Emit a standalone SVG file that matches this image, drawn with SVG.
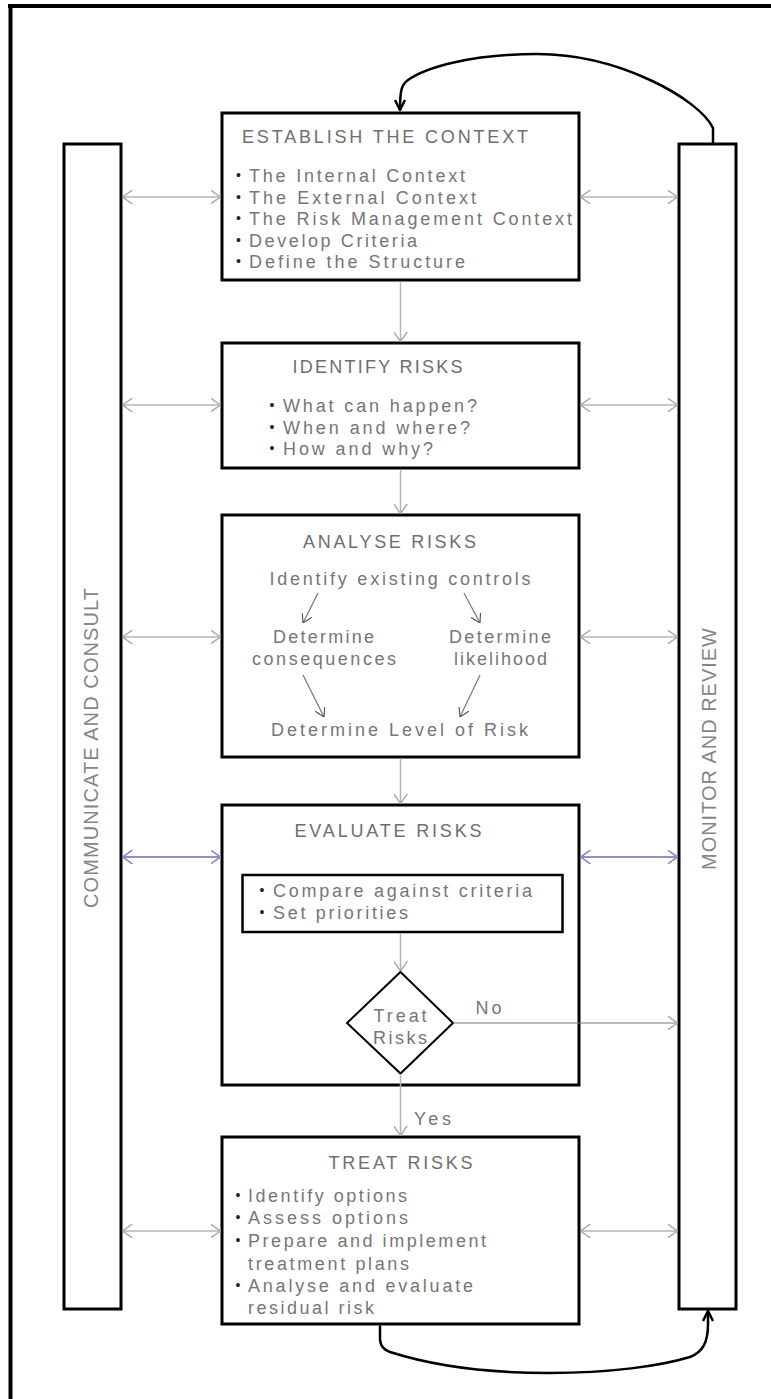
<svg xmlns="http://www.w3.org/2000/svg" width="771" height="1399" viewBox="0 0 771 1399">
<style>
.box{fill:#fff;stroke:#000;stroke-width:3}
.col{fill:#fff;stroke:#000;stroke-width:3}
.t{font-family:"Liberation Sans",Arial,sans-serif;font-size:18px;fill:#767676}
.h{font-family:"Liberation Sans",Arial,sans-serif;font-size:18px;fill:#6e6e6e}
.ct{font-family:"Liberation Sans",Arial,sans-serif;font-size:20px;fill:#858585}
.b{font-family:"Liberation Sans",Arial,sans-serif;font-size:14px;fill:#222;text-anchor:middle}
.cg{fill:none;stroke:#b4b4b4;stroke-width:1.5}
.cb{fill:none;stroke:#9090c4;stroke-width:2}
.cd{fill:none;stroke:#777;stroke-width:1.2}
.ck{fill:none;stroke:#000;stroke-width:2.5}
</style>
<defs>
<marker id="ag" viewBox="0 0 10 14" refX="10" refY="7" markerWidth="10" markerHeight="14" markerUnits="userSpaceOnUse" orient="auto-start-reverse"><path d="M0,0 L10,7 L0,14" fill="none" stroke="#a8a8a8" stroke-width="1.4"/></marker>
<marker id="ab" viewBox="0 0 10 14" refX="10" refY="7" markerWidth="10" markerHeight="14" markerUnits="userSpaceOnUse" orient="auto-start-reverse"><path d="M0,0 L10,7 L0,14" fill="none" stroke="#8c8cc0" stroke-width="1.6"/></marker>
<marker id="ad" viewBox="0 0 10 12" refX="10" refY="6" markerWidth="9" markerHeight="11" markerUnits="userSpaceOnUse" orient="auto"><path d="M0,0 L10,6 L0,12" fill="none" stroke="#555" stroke-width="1.3"/></marker>
<marker id="ak" viewBox="0 0 12 12" refX="11" refY="6" markerWidth="12" markerHeight="12" markerUnits="userSpaceOnUse" orient="auto"><path d="M1,1 L11,6 L1,11" fill="none" stroke="#000" stroke-width="2.5"/></marker>
</defs>

<g id="frame">
<line x1="8" y1="6" x2="771" y2="6" stroke="#000" stroke-width="4"/>
<line x1="10.5" y1="4" x2="10.5" y2="1399" stroke="#000" stroke-width="4"/>
</g>

<g id="communicate">
<rect class="col" x="64" y="144" width="57" height="1165"/>
<text class="ct" transform="translate(97.5,908) rotate(-90)" x="0" y="0" textLength="320" lengthAdjust="spacing">COMMUNICATE AND CONSULT</text>
</g>

<g id="monitor">
<rect class="col" x="679" y="144" width="57" height="1165"/>
<text class="ct" transform="translate(716,870) rotate(-90)" x="0" y="0" textLength="242" lengthAdjust="spacing">MONITOR AND REVIEW</text>
</g>

<g id="establish">
<rect class="box" x="222" y="113" width="357" height="167"/>
<text class="h" x="242" y="143" textLength="286" lengthAdjust="spacing">ESTABLISH THE CONTEXT</text>
<text class="b" x="238.5" y="180">•</text><text class="t" x="249" y="182" textLength="216" lengthAdjust="spacing">The Internal Context</text>
<text class="b" x="238.5" y="201.5">•</text><text class="t" x="249" y="203.5" textLength="227" lengthAdjust="spacing">The External Context</text>
<text class="b" x="238.5" y="223">•</text><text class="t" x="249" y="225" textLength="323" lengthAdjust="spacing">The Risk Management Context</text>
<text class="b" x="238.5" y="244.5">•</text><text class="t" x="249" y="246.5" textLength="168" lengthAdjust="spacing">Develop Criteria</text>
<text class="b" x="238.5" y="266">•</text><text class="t" x="249" y="268" textLength="216" lengthAdjust="spacing">Define the Structure</text>
</g>

<g id="identify">
<rect class="box" x="222" y="343" width="357" height="125"/>
<text class="h" x="292.5" y="373" textLength="170" lengthAdjust="spacing">IDENTIFY RISKS</text>
<text class="b" x="272" y="410">•</text><text class="t" x="283" y="412" textLength="194" lengthAdjust="spacing">What can happen?</text>
<text class="b" x="272" y="431.5">•</text><text class="t" x="283" y="433.5" textLength="187" lengthAdjust="spacing">When and where?</text>
<text class="b" x="272" y="453">•</text><text class="t" x="283" y="455" textLength="150" lengthAdjust="spacing">How and why?</text>
</g>

<g id="analyse">
<rect class="box" x="222" y="515" width="357" height="242"/>
<text class="h" x="303" y="548" textLength="173" lengthAdjust="spacing">ANALYSE RISKS</text>
<text class="t" x="269.5" y="585" textLength="261" lengthAdjust="spacing">Identify existing controls</text>
<text class="t" x="273" y="643" textLength="101" lengthAdjust="spacing">Determine</text>
<text class="t" x="252" y="665" textLength="144" lengthAdjust="spacing">consequences</text>
<text class="t" x="449" y="643" textLength="102" lengthAdjust="spacing">Determine</text>
<text class="t" x="454" y="665" textLength="93" lengthAdjust="spacing">likelihood</text>
<text class="t" x="271" y="736" textLength="257" lengthAdjust="spacing">Determine Level of Risk</text>
<line class="cd" x1="318" y1="593" x2="303" y2="623" marker-end="url(#ad)"/>
<line class="cd" x1="464" y1="593" x2="480" y2="623" marker-end="url(#ad)"/>
<line class="cd" x1="303" y1="675" x2="324" y2="717" marker-end="url(#ad)"/>
<line class="cd" x1="480" y1="675" x2="460" y2="717" marker-end="url(#ad)"/>
</g>

<g id="evaluate">
<rect class="box" x="222" y="805" width="357" height="280"/>
<text class="h" x="294.5" y="837" textLength="187" lengthAdjust="spacing">EVALUATE RISKS</text>
<rect x="242.5" y="875" width="320" height="57" fill="#fff" stroke="#000" stroke-width="2.5"/>
<text class="b" x="262" y="895">•</text><text class="t" x="273" y="897" textLength="259" lengthAdjust="spacing">Compare against criteria</text>
<text class="b" x="262" y="917">•</text><text class="t" x="273" y="919" textLength="135" lengthAdjust="spacing">Set priorities</text>
</g>

<g id="decision">
<polygon points="400.5,972 453,1023 400.5,1073.5 347,1023" fill="#fff" stroke="#000" stroke-width="2"/>
<text class="t" x="373.6" y="1022" textLength="53" lengthAdjust="spacing">Treat</text>
<text class="t" x="373" y="1043.5" textLength="54" lengthAdjust="spacing">Risks</text>
</g>

<g id="treat">
<rect class="box" x="222" y="1137" width="357" height="187"/>
<text class="h" x="328.6" y="1169" textLength="144" lengthAdjust="spacing">TREAT RISKS</text>
<text class="b" x="238" y="1200">•</text><text class="t" x="248" y="1202" textLength="159" lengthAdjust="spacing">Identify options</text>
<text class="b" x="238" y="1222">•</text><text class="t" x="248" y="1224" textLength="160" lengthAdjust="spacing">Assess options</text>
<text class="b" x="238" y="1245">•</text><text class="t" x="248" y="1247" textLength="238" lengthAdjust="spacing">Prepare and implement</text>
<text class="t" x="248" y="1269.5" textLength="161" lengthAdjust="spacing">treatment plans</text>
<text class="b" x="238" y="1290">•</text><text class="t" x="248" y="1292" textLength="225" lengthAdjust="spacing">Analyse and evaluate</text>
<text class="t" x="248" y="1314" textLength="126" lengthAdjust="spacing">residual risk</text>
</g>

<g id="connectors">
<line class="cg" x1="122.5" y1="197" x2="220.5" y2="197" marker-start="url(#ag)" marker-end="url(#ag)"/>
<line class="cg" x1="580.5" y1="197" x2="677.5" y2="197" marker-start="url(#ag)" marker-end="url(#ag)"/>
<line class="cg" x1="122.5" y1="405" x2="220.5" y2="405" marker-start="url(#ag)" marker-end="url(#ag)"/>
<line class="cg" x1="580.5" y1="405" x2="677.5" y2="405" marker-start="url(#ag)" marker-end="url(#ag)"/>
<line class="cg" x1="122.5" y1="637" x2="220.5" y2="637" marker-start="url(#ag)" marker-end="url(#ag)"/>
<line class="cg" x1="580.5" y1="637" x2="677.5" y2="637" marker-start="url(#ag)" marker-end="url(#ag)"/>
<line class="cb" x1="122.5" y1="857" x2="220.5" y2="857" marker-start="url(#ab)" marker-end="url(#ab)"/>
<line class="cb" x1="580.5" y1="857" x2="677.5" y2="857" marker-start="url(#ab)" marker-end="url(#ab)"/>
<line class="cg" x1="122.5" y1="1231" x2="220.5" y2="1231" marker-start="url(#ag)" marker-end="url(#ag)"/>
<line class="cg" x1="580.5" y1="1231" x2="677.5" y2="1231" marker-start="url(#ag)" marker-end="url(#ag)"/>
<line class="cg" x1="400.5" y1="281.5" x2="400.5" y2="341.5" marker-end="url(#ag)"/>
<line class="cg" x1="400.5" y1="469.5" x2="400.5" y2="513.5" marker-end="url(#ag)"/>
<line class="cg" x1="400.5" y1="758.5" x2="400.5" y2="803.5" marker-end="url(#ag)"/>
<line class="cg" x1="400.5" y1="933" x2="400.5" y2="971" marker-end="url(#ag)"/>
<line class="cg" x1="400.5" y1="1074" x2="400.5" y2="1135.5" marker-end="url(#ag)"/>
<line class="cd" x1="453" y1="1023" x2="677.5" y2="1023" marker-end="url(#ag)"/>
<text class="t" x="475.6" y="1014" textLength="26" lengthAdjust="spacing">No</text>
<text class="t" x="414" y="1125" textLength="37" lengthAdjust="spacing">Yes</text>
<path class="ck" d="M713,143 V128 C700,100 620,54 537,54 C470,54 425,68 408,80 C401,85 400,92 400,110" marker-end="url(#ak)"/>
<path class="ck" d="M380,1325.5 V1340 Q381,1349 390,1352 C440,1368 500,1373 549,1373 C610,1373 660,1366 690,1357 C703,1352 708,1342 708,1324 V1311" marker-end="url(#ak)"/>
</g>
</svg>
